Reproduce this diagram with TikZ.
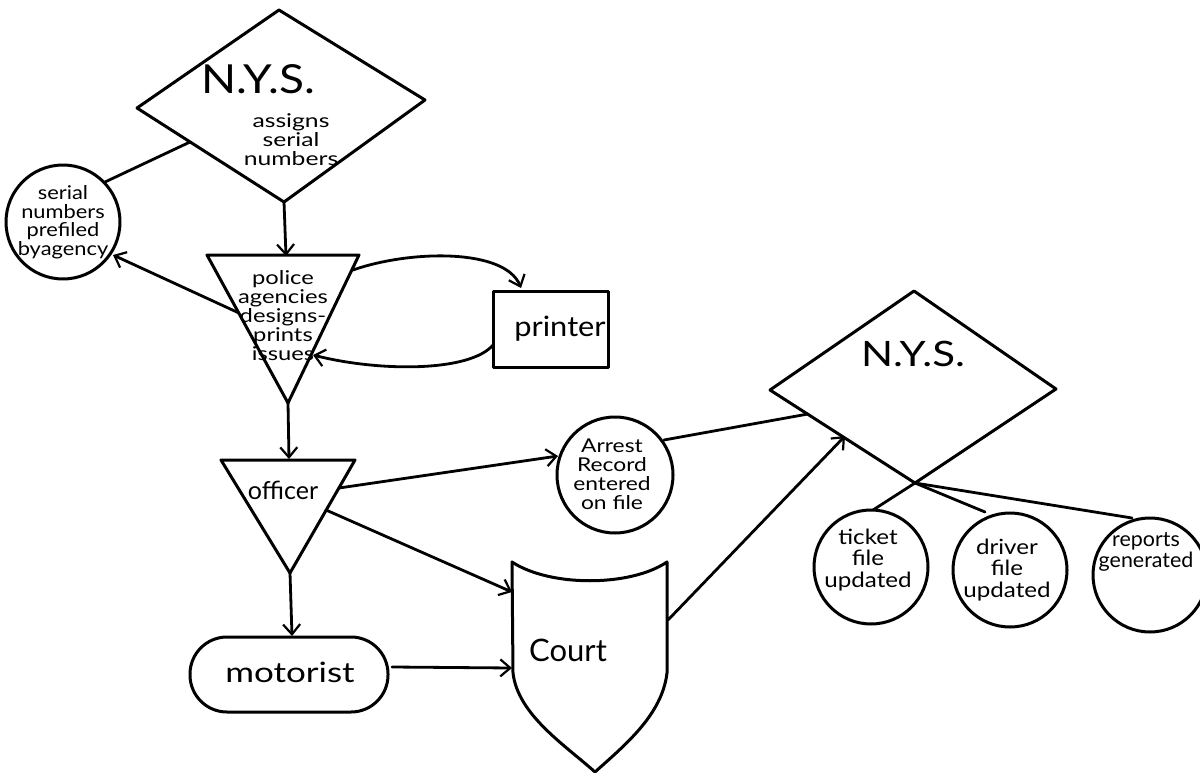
\documentclass[tikz,border=0pt]{standalone}
\usepackage{fontspec}
\usepackage{graphicx}
\setmainfont{Lato}
\usetikzlibrary{arrows.meta}
\newcommand\handtxt[2]{\scalebox{#1}[1]{\begin{tabular}{@{}c@{}}#2\end{tabular}}}
\begin{document}
\begin{tikzpicture}[x=1pt,y=-1pt,
  shp/.style={line width=3pt, line join=round},
  con/.style={line width=2.8pt, line cap=round},
  arr/.style={con, -{Straight Barb[length=10pt,width=17pt,line width=2.2pt]}},
  lbl/.style={align=center, inner sep=0pt},
  big/.style={lbl, font=\fontsize{40}{44}\selectfont},
  mid/.style={lbl, font=\fontsize{28}{30}\selectfont},
  sml/.style={lbl, font=\fontsize{21}{19}\selectfont},
  tny/.style={lbl, font=\fontsize{19}{16.5}\selectfont},
]
\fill[white] (0,0) rectangle (1200,773);
\useasboundingbox (0,0) rectangle (1200,773);

% ---------- shapes ----------
% top diamond
\coordinate (d1t) at (279,10);
\coordinate (d1l) at (137,108);
\coordinate (d1r) at (425,100);
\coordinate (d1b) at (284,202);
\draw[shp] (d1t) -- (d1r) -- (d1b) -- (d1l) -- cycle;
\node[big] (nys1) at (258,85) {\handtxt{1.15}{N.Y.S.}};
\node[tny] (nys1txt) at (291,142) {\handtxt{1.3}{assigns\\serial\\numbers}};

% serial numbers circle
\draw[shp] (63,222) circle (57);
\node[tny] (serial) at (63,223) {\handtxt{1.15}{serial\\numbers\\prefiled\\byagency}};

% police triangle
\coordinate (pt1) at (207,255);
\coordinate (pt2) at (359,255);
\coordinate (pt3) at (288,403);
\draw[shp] (pt1) -- (pt2) -- (pt3) -- cycle;
\node[tny] (police) at (283,318) {\handtxt{1.25}{police\\agencies\\designs-\\prints\\issues}};

% printer
\draw[shp] (493,291) rectangle (608,367);
\node[mid] (printer) at (560,330) {\handtxt{1.1}{printer}};

% officer triangle
\coordinate (ot1) at (221,460);
\coordinate (ot2) at (355,460);
\coordinate (ot3) at (290,573);
\draw[shp] (ot1) -- (ot2) -- (ot3) -- cycle;
\node[lbl,font=\fontsize{25}{28}\selectfont] (officer) at (283,490) {officer};

% motorist
\draw[shp, rounded corners=37pt] (190,637) rectangle (388,712);
\node[mid] (motorist) at (290,676) {\handtxt{1.25}{motorist}};

% arrest circle
\draw[shp] (615,475) circle (58);
\node[tny] (arrest) at (612,477) {\handtxt{1.2}{Arrest\\Record\\entered\\on file}};

% court shield
\draw[shp] (512,562) .. controls (550,587) and (630,587) .. (667,562)
  -- (667,673) .. controls (662,715) and (625,745) .. (595,772)
  .. controls (565,745) and (518,715) .. (513,673) -- cycle;
\node[lbl,font=\fontsize{31}{34}\selectfont] (court) at (568,650) {Court};

% right diamond
\coordinate (d2t) at (914,291);
\coordinate (d2l) at (770,390);
\coordinate (d2r) at (1056,389);
\coordinate (d2b) at (915,483);
\draw[shp] (d2t) -- (d2r) -- (d2b) -- (d2l) -- cycle;
\node[big,font=\fontsize{35}{38}\selectfont] (nys2) at (913,359) {\handtxt{1.2}{N.Y.S.}};

% bottom circles
\draw[shp] (871,567) circle (57);
\node[sml] (ticket) at (868,561) {\handtxt{1.15}{ticket\\file\\updated}};
\draw[shp] (1010,570) circle (57);
\node[sml] (driver) at (1007,571) {\handtxt{1.15}{driver\\file\\updated}};
\draw[shp] (1150,575) circle (57);
\node[sml] (reports) at (1146,553) {\handtxt{1.02}{reports\\generated}};

% ---------- connection points ----------
\coordinate (a1) at (190,142);
\coordinate (a2) at (105,182);
\coordinate (b1) at (284,202);
\coordinate (b2) at (286,256);
\coordinate (c1) at (239,313);
\coordinate (c2) at (113,255);
\coordinate (e1) at (353,270);
\coordinate (e2) at (521,288);
\coordinate (f1) at (493,345);
\coordinate (f2) at (313,355);
\coordinate (g1) at (288,403);
\coordinate (g2) at (289,459);
\coordinate (h1) at (290,573);
\coordinate (h2) at (292,636);
\coordinate (i1) at (392,667);
\coordinate (i2) at (512,668);
\coordinate (j1) at (339,488);
\coordinate (j2) at (558,456);
\coordinate (k1) at (326,510);
\coordinate (k2) at (512,592);
\coordinate (l1) at (664,440);
\coordinate (l2) at (808,414);
\coordinate (m1) at (668,620);
\coordinate (m2) at (845,436);
\coordinate (n1) at (873,510);
\coordinate (n2) at (985,512);
\coordinate (n3) at (1132,518);

% ---------- connectors ----------
\draw[con] (a1) -- (a2);
\draw[arr] (b1) -- (b2);
\draw[arr] (c1) -- (c2);
\draw[arr] (e1) .. controls (410,250) and (505,248) .. (e2);
\draw[arr] (f1) .. controls (470,372) and (380,372) .. (f2);
\draw[arr] (g1) -- (g2);
\draw[arr] (h1) -- (h2);
\draw[arr] (i1) -- (i2);
\draw[arr] (j1) -- (j2);
\draw[arr] (k1) -- (k2);
\draw[con] (l1) -- (l2);
\draw[arr] (m1) -- (m2);
\draw[con] (d2b) -- (n1);
\draw[con] (d2b) -- (n2);
\draw[con] (d2b) -- (n3);
\end{tikzpicture}
\end{document}
